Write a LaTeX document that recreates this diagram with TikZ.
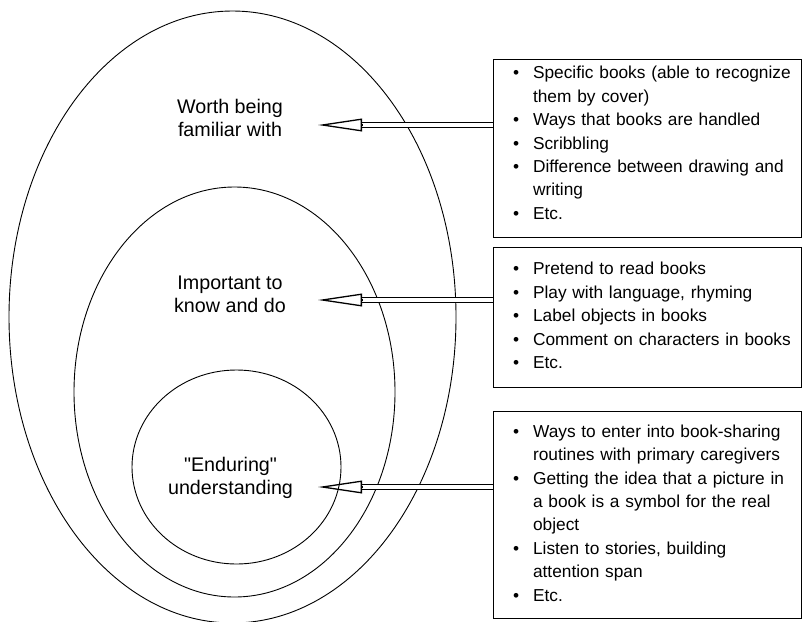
\documentclass[tikz,border=0pt]{standalone}
\usepackage{fontspec}
\setmainfont{Liberation Sans}
\usetikzlibrary{arrows.meta}
\setlength{\parindent}{0pt}
\tikzset{
  ring/.style={draw,line width=0.9pt},
  lab/.style={align=center,font=\fontsize{19.7}{23}\selectfont},
  listbox/.style={draw,line width=1pt,minimum width=308pt,inner xsep=20pt,text width=268pt,align=left,
    font=\fontsize{17.3}{23.4}\selectfont},
  shaft/.style={double,double distance=3.7pt,line width=1.4pt},
  head/.style={line width=1.3pt,-{Triangle[open,length=44pt,width=12.7pt]}}
}
\newcommand{\bul}{\textbullet}

\begin{document}
\begin{tikzpicture}[x=1pt,y=-1pt]
  \useasboundingbox (0,0) rectangle (802,621);

  \draw[ring] (232.5,317) ellipse [x radius=223.5, y radius=306];
  \draw[ring] (234.5,392) ellipse [x radius=160.5, y radius=205];
  \draw[ring] (236.5,467) ellipse [x radius=104.5, y radius=97];

  \node[lab] (worth) at (230,117.5) {Worth being\\familiar with};
  \node[lab] (important) at (230,294) {Important to\\know and do};
  \node[lab] (enduring) at (230.5,478) {\textquotedbl Enduring\textquotedbl\\understanding};

  \node[listbox,minimum height=173pt] (box1) at (647,148.5) {%
    \vspace*{8pt}%
    \begin{tabular}{@{}l@{\hspace{14pt}}l@{}}
      \bul & Specific books (able to recognize\\
           & them by cover)\\
      \bul & Ways that books are handled\\
      \bul & Scribbling\\
      \bul & Difference between drawing and\\
           & writing\\
      \bul & Etc.
    \end{tabular}};
  \node[listbox,minimum height=140pt] (box2) at (647,317) {%
    \begin{tabular}{@{}l@{\hspace{14pt}}l@{}}
      \bul & Pretend to read books\\
      \bul & Play with language, rhyming\\
      \bul & Label objects in books\\
      \bul & Comment on characters in books\\
      \bul & Etc.
    \end{tabular}};
  \node[listbox,minimum height=207pt] (box3) at (647,514.5) {%
    \begin{tabular}{@{}l@{\hspace{14pt}}l@{}}
      \bul & Ways to enter into book-sharing\\
           & routines with primary caregivers\\
      \bul & Getting the idea that a picture in\\
           & a book is a symbol for the real\\
           & object\\
      \bul & Listen to stories, building\\
           & attention span\\
      \bul & Etc.
    \end{tabular}};

  \coordinate (tip1) at (318,125);
  \coordinate (tip2) at (318,300);
  \coordinate (tip3) at (318,487);

  \draw[shaft] (box1.west |- tip1) -- ([xshift=44pt]tip1);
  \draw[head] ([xshift=44pt]tip1) -- (tip1);
  \draw[shaft] (box2.west |- tip2) -- ([xshift=44pt]tip2);
  \draw[head] ([xshift=44pt]tip2) -- (tip2);
  \draw[shaft] (box3.west |- tip3) -- ([xshift=44pt]tip3);
  \draw[head] ([xshift=44pt]tip3) -- (tip3);
\end{tikzpicture}
\end{document}
